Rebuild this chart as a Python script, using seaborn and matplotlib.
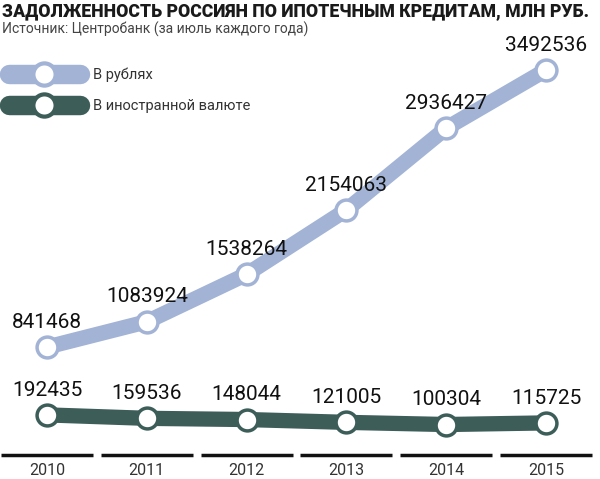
import numpy as np
import pandas as pd
import matplotlib
matplotlib.use('Agg')
import matplotlib.pyplot as plt
import seaborn as sns
from matplotlib.lines import Line2D

# data
years = [2010, 2011, 2012, 2013, 2014, 2015]
rub = [841468, 1083924, 1538264, 2154063, 2936427, 3492536]
fx = [192435, 159536, 148044, 121005, 100304, 115725]
series_names = ['В рублях', 'В иностранной валюте']
colors = ['#a2b3d5', '#3d5d59']

df = pd.DataFrame({'year': years * 2,
                   'value': rub + fx,
                   'series': [series_names[0]] * 6 + [series_names[1]] * 6})

sns.set_style('white')
plt.rcParams['font.family'] = ['Roboto', 'DejaVu Sans']

fig = plt.figure(figsize=(6, 4.79), dpi=100)
ax = fig.add_axes([0, 0.0501, 1, 0.8664])

sns.lineplot(data=df, x='year', y='value', hue='series', palette=colors,
             linewidth=11, marker='o', markersize=15, markerfacecolor='white',
             markeredgewidth=2.5, solid_capstyle='round', ax=ax, legend=False)
# marker edge colour per series
for line, c in zip(ax.lines, colors):
    line.set_markeredgecolor(c)

ax.set_xlim(2009.529, 2015.541)
ax.set_ylim(-191400, 3779900)

# value labels
for vals in (rub, fx):
    for x, v in zip(years, vals):
        ax.annotate(str(v), (x, v), xytext=(0, 11), textcoords='offset points',
                    ha='center', va='bottom', fontsize=15, color='#111111')

# segmented baseline under every year
for x in years:
    ax.hlines(-191400, x - 0.46, x + 0.46, color='#111111', linewidth=2.5,
              clip_on=False)

sns.despine(ax=ax, left=True, bottom=True, top=True, right=True)
ax.set_yticks([])
ax.set_xticks(years)
ax.set_xticklabels([str(y) for y in years], fontsize=11.5, color='#333333')
ax.tick_params(axis='x', length=0, pad=6)
ax.set_xlabel('')
ax.set_ylabel('')

# legend
handles = [Line2D([0], [0], color=c, linewidth=14, marker='o', markersize=16,
                  markerfacecolor='white', markeredgecolor=c, markeredgewidth=3,
                  solid_capstyle='round') for c in colors]
ax.legend(handles, series_names, loc='upper left', bbox_to_anchor=(0.0, 0.955),
          frameon=False, fontsize=10.5, handlelength=4.9, numpoints=1,
          labelspacing=1.2, handletextpad=0.9, labelcolor='#333333',
          borderaxespad=0.2)

fig.text(0.003, 0.996, 'ЗАДОЛЖЕННОСТЬ РОССИЯН ПО ИПОТЕЧНЫМ КРЕДИТАМ, МЛН РУБ.',
         fontsize=12.7, fontweight='heavy', ha='left', va='top', color='#1a1a1a')
fig.text(0.003, 0.955, 'Источник: Центробанк (за июль каждого года)',
         fontsize=10, ha='left', va='top', color='#444444')

fig.savefig('out.png', dpi=100, facecolor='white')
